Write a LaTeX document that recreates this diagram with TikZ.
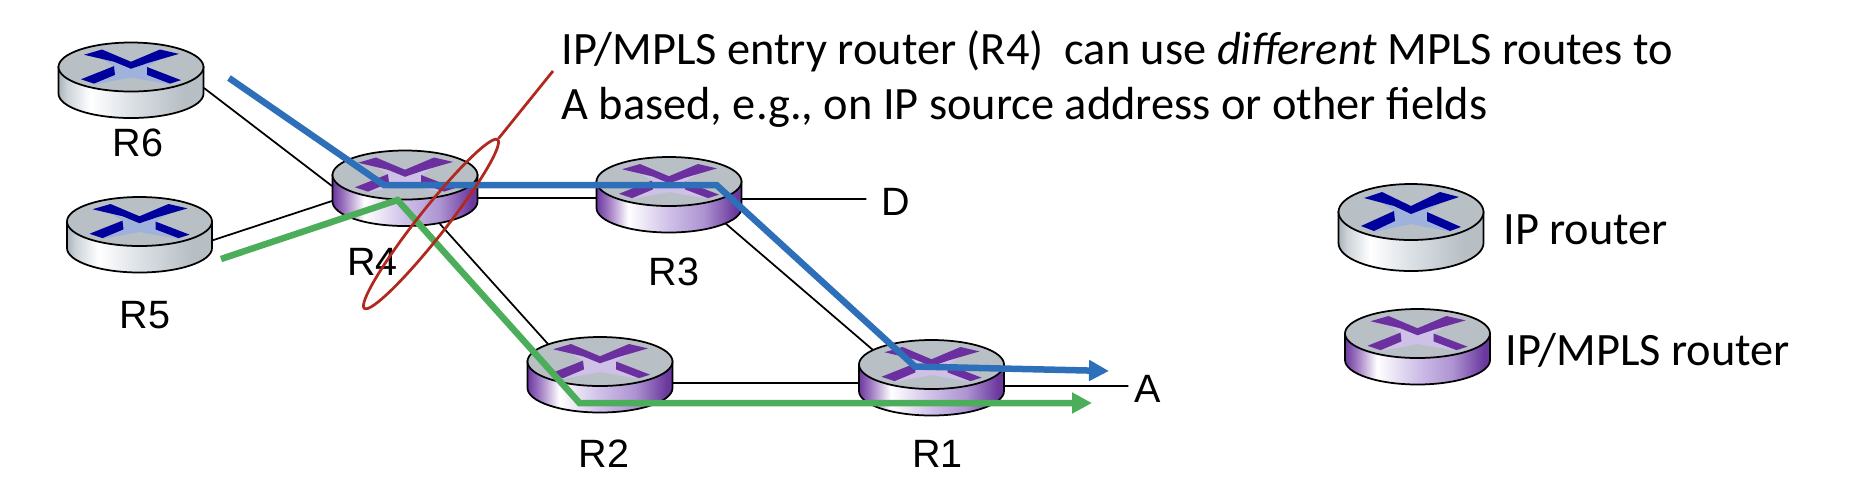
\documentclass[tikz,border=0pt]{standalone}
\usepackage{xcolor}
\usepackage{fontspec}
\setmainfont{Carlito}
\newfontfamily\labelfont{Liberation Sans}
\usepackage{tikz}
\usetikzlibrary{arrows.meta,backgrounds,shapes.geometric}

\definecolor{topgray}{HTML}{B8BFC5}
\definecolor{ipdark}{HTML}{00009C}
\definecolor{iplight}{HTML}{9FB2DC}
\definecolor{mplsdark}{HTML}{6B2FA0}
\definecolor{mplslight}{HTML}{CFC0E8}
\definecolor{bluepath}{HTML}{2E6FBA}
\definecolor{greenpath}{HTML}{4CAE5A}
\definecolor{redmark}{HTML}{B0281E}

\pgfdeclarehorizontalshading{ipside}{100bp}{rgb(0bp)=(0.66,0.70,0.72); rgb(25bp)=(0.66,0.70,0.72); rgb(28bp)=(0.80,0.83,0.85); rgb(36bp)=(1,1,1); rgb(50bp)=(0.86,0.88,0.90); rgb(68bp)=(0.72,0.75,0.77); rgb(75bp)=(0.72,0.75,0.77); rgb(100bp)=(0.72,0.75,0.77)}
\pgfdeclarehorizontalshading{mplsside}{100bp}{rgb(0bp)=(0.42,0.22,0.62); rgb(25bp)=(0.42,0.22,0.62); rgb(29bp)=(0.62,0.47,0.76); rgb(36bp)=(1,1,1); rgb(50bp)=(0.81,0.75,0.91); rgb(62bp)=(0.68,0.58,0.82); rgb(73bp)=(0.42,0.22,0.62); rgb(100bp)=(0.42,0.22,0.62)}

\tikzset{
  link/.style={draw=black, line width=0.035cm},
  bluearrow/.style={draw=bluepath, line width=0.13cm, -{Triangle[length=0.4cm,width=0.4cm]}},
  greenarrow/.style={draw=greenpath, line width=0.13cm, -{Triangle[length=0.4cm,width=0.4cm]}},
  rname/.style={font=\labelfont\fontsize{22.5}{27}\selectfont, inner sep=0pt},
  note/.style={font=\fontsize{26.4}{31.3}\selectfont, inner sep=0pt},
  pics/router/.style n args={4}{code={
    \path[draw=black, line width=0.035cm, shading=#3]
      (-72.5,0) -- (-72.5,#2) .. controls (-72.5,{#2+0.55*#1}) and (-40,{#2+#1}) .. (0,{#2+#1})
      .. controls (40,{#2+#1}) and (72.5,{#2+0.55*#1}) .. (72.5,#2) -- (72.5,0) -- cycle;
    \node (-top) [ellipse, draw=black, line width=0.035cm, fill=topgray, inner sep=0pt,
      minimum width=2.9cm, minimum height={2*#1*0.02cm}] at (0,0) {};
    \begin{scope}[yscale=#1/28]
      \fill[#4light] (-30,-10) -- (0,2) -- (31,-10) -- (16,0) -- (16,9) -- (40,20) -- (0,12)
        -- (-37,20) -- (-16,9) -- (-17,-1) -- cycle;
      \fill[#4dark] (-47,-14) -- (-29,-20) -- (0,-6) -- (29,-20) -- (48,-15) -- (18,-5) -- (0,2) -- (-17,-6) -- cycle;
      \fill[#4dark] (-50,14) -- (-17,-1) -- (-16,9) -- (-37,19) -- cycle;
      \fill[#4dark] (16,0) -- (50,15) -- (39,19) -- (16,9) -- cycle;
    \end{scope}
  }}
}

\begin{document}
\begin{tikzpicture}[x=0.02cm,y=-0.02cm]
  \useasboundingbox (0,0) rectangle (1857,485);

  \pic (R6) at (131,67) {router={24.5}{26.5}{ipside}{ip}};
  \pic (R5) at (139.5,221.5) {router={24.5}{26.5}{ipside}{ip}};
  \pic (R4) at (405,175) {router={24.5}{26.5}{mplsside}{mpls}};
  \pic (R3) at (669,181.5) {router={24.5}{26.5}{mplsside}{mpls}};
  \pic (R2) at (600,361.5) {router={24.5}{26.5}{mplsside}{mpls}};
  \pic (R1) at (931.5,364.5) {router={24.5}{26.5}{mplsside}{mpls}};
  \pic (IPR) at (1411,212) {router={28}{31}{ipside}{ip}};
  \pic (LSR) at (1417.5,333.5) {router={24.5}{26.5}{mplsside}{mpls}};

  \node (labelR6) [rname] at (138,143) {R6};
  \node (labelR5) [rname] at (145,315) {R5};
  \node (labelR4) [rname] at (372.5,262) {R4};
  \node (labelR3) [rname] at (674,272) {R3};
  \node (labelR2) [rname] at (604,454) {R2};
  \node (labelR1) [rname] at (937.5,454) {R1};
  \node (D) [rname] at (896,202) {D};
  \node (A) [rname] at (1148,389) {A};

  \node (textIP) [note, anchor=west] at (1503,230) {IP router};
  \node (textMPLS) [note, anchor=west] at (1505,350) {IP/MPLS router};
  \node (callout) [note, anchor=west, align=left] at (561,79) {IP/MPLS entry router (R4)\ \ can use \textit{different} MPLS routes to\\A based, e.g., on IP source address or other fields};

  \begin{pgfonlayer}{background}
    \draw[link] ([shift={(73,21)}]R6-top.center) -- ([shift={(-73,11)}]R4-top.center);
    \draw[link] ([shift={(72.5,19)}]R5-top.center) -- ([shift={(-73,26)}]R4-top.center);
    \draw[link] ([shift={(72.5,23)}]R4-top.center) -- ([shift={(-72,16.5)}]R3-top.center);
    \draw[link] ([shift={(72.5,17.5)}]R3-top.center) -- ([shift={(-15,-3)}]D.west);
    \draw[link] ([shift={(35,49)}]R4-top.center) -- ([shift={(-52,-17.5)}]R2-top.center);
    \draw[link] ([shift={(56,41.5)}]R3-top.center) -- ([shift={(-58.5,-14.5)}]R1-top.center);
    \draw[link] ([shift={(72,21.5)}]R2-top.center) -- ([shift={(-72.5,18.5)}]R1-top.center);
    \draw[link] ([shift={(72.5,21.5)}]R1-top.center) -- ([shift={(-6,-3)}]A.west);
  \end{pgfonlayer}

  \coordinate (blueStart) at (229,78);
  \coordinate (blueEnd) at (1109,371);
  \coordinate (greenStart) at (221,259);
  \coordinate (greenEnd) at (1092,403);
  \draw[bluearrow] (blueStart) -- ([shift={(-21,10)}]R4-top.center) -- ([shift={(47.5,3.5)}]R3-top.center)
    -- ([shift={(-16.5,2)}]R1-top.center) -- (blueEnd);
  \draw[greenarrow] (greenStart) -- ([shift={(-7.5,25)}]R4-top.center) -- ([shift={(-20.5,41.5)}]R2-top.center) -- (greenEnd);

  \node (entry) [ellipse, draw=redmark, line width=0.055cm, inner sep=0pt, minimum width=4.3cm, minimum height=0.56cm, rotate=51.7] at (431,224) {};
  \coordinate (calloutEnd) at (553,71);
  \draw[draw=redmark, line width=0.055cm] (entry.east) -- (calloutEnd);
\end{tikzpicture}
\end{document}
